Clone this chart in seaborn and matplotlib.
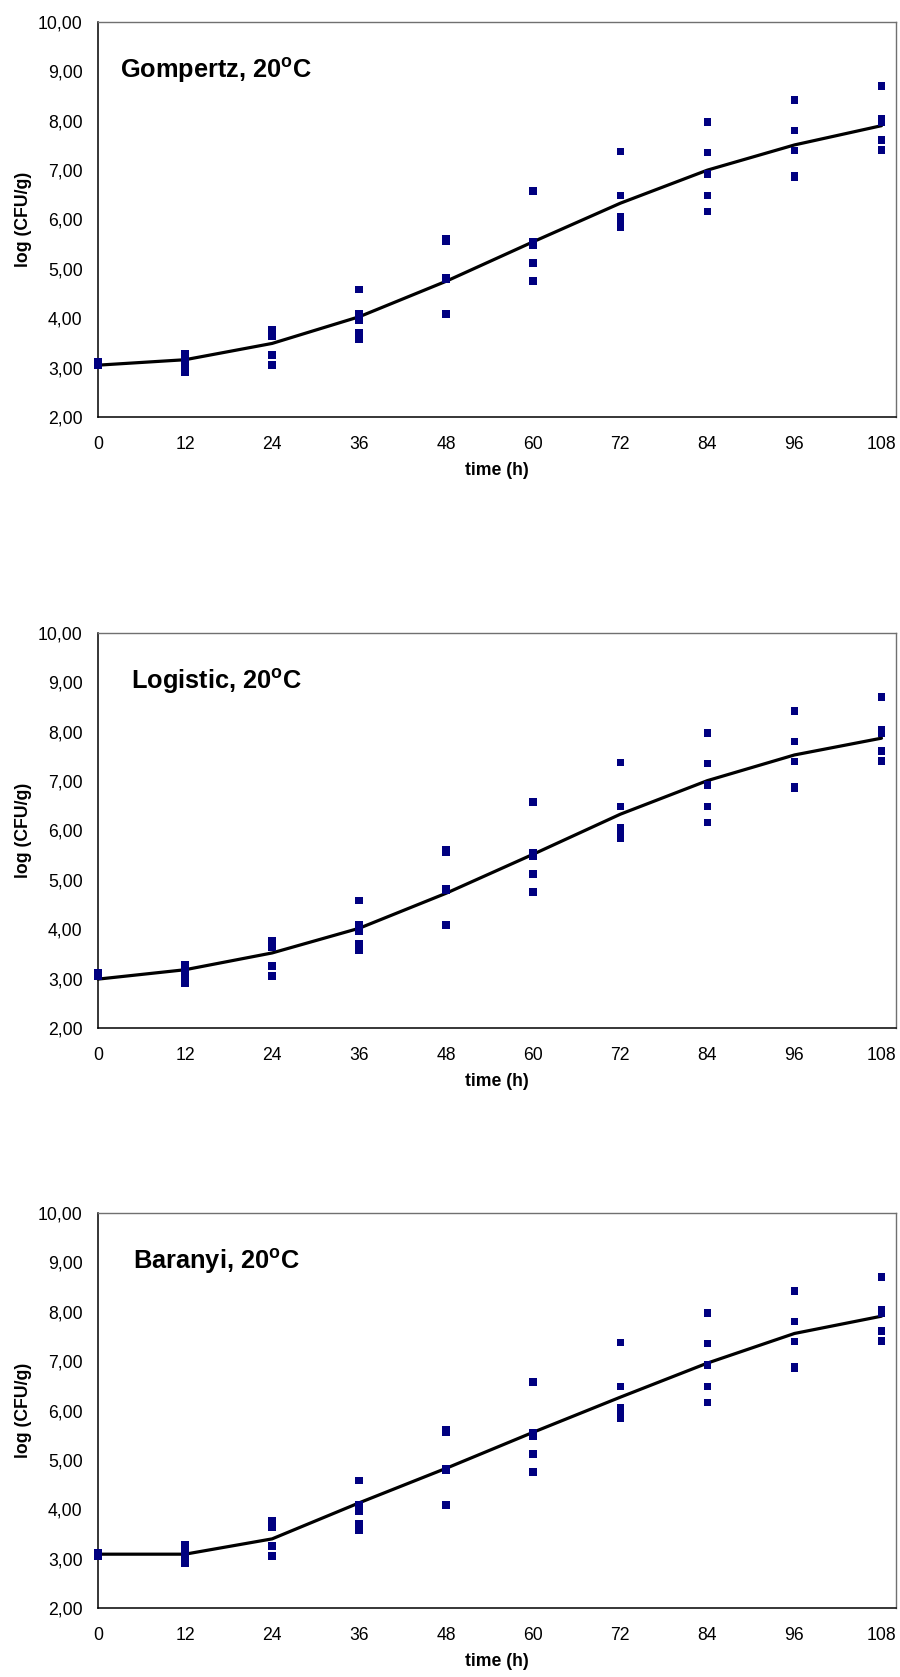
import numpy as np
import pandas as pd
import matplotlib
matplotlib.use("Agg")
import matplotlib.pyplot as plt
import seaborn as sns

# ---- data ----
times = [0, 12, 24, 36, 48, 60, 72, 84, 96, 108]
rep1 = [3.04, 3.28, 3.76, 4.58, 5.60, 6.58, 7.38, 7.98, 8.42, 8.70]
rep2 = [3.07, 3.20, 3.70, 4.08, 5.56, 5.55, 6.49, 7.36, 7.80, 8.03]
rep3 = [3.10, 3.12, 3.63, 3.97, 4.81, 5.47, 6.05, 6.92, 7.40, 7.97]
rep4 = [3.12, 3.05, 3.26, 3.70, 4.79, 5.12, 5.95, 6.49, 6.89, 7.61]
rep5 = [3.05, 2.91, 3.05, 3.57, 4.09, 4.75, 5.84, 6.16, 6.86, 7.41]

gompertz_fit = [3.05, 3.16, 3.49, 4.03, 4.75, 5.55, 6.33, 7.00, 7.51, 7.90]
logistic_fit = [2.99, 3.18, 3.52, 4.02, 4.73, 5.52, 6.33, 7.01, 7.53, 7.87]
baranyi_fit = [3.09, 3.09, 3.40, 4.13, 4.83, 5.56, 6.27, 6.96, 7.56, 7.91]

model_names = ["Gompertz", "Logistic", "Baranyi"]
fits = [gompertz_fit, logistic_fit, baranyi_fit]

x_ticks = [0, 12, 24, 36, 48, 60, 72, 84, 96, 108]
y_ticks = [2, 3, 4, 5, 6, 7, 8, 9, 10]
y_tick_labels = ["2,00", "3,00", "4,00", "5,00", "6,00", "7,00", "8,00", "9,00", "10,00"]

obs = pd.DataFrame({
    "time": times * 5,
    "logcfu": rep1 + rep2 + rep3 + rep4 + rep5,
})

# ---- style ----
sns.set_style("white")
plt.rcParams["font.family"] = ["Liberation Sans", "DejaVu Sans"]
plt.rcParams["text.color"] = "black"
plt.rcParams["axes.labelcolor"] = "black"
plt.rcParams["xtick.color"] = "black"
plt.rcParams["ytick.color"] = "black"
plt.rcParams["mathtext.fontset"] = "custom"
plt.rcParams["mathtext.rm"] = "Liberation Sans:bold"
plt.rcParams["mathtext.bf"] = "Liberation Sans:bold"
plt.rcParams["mathtext.it"] = "Liberation Sans:bold"

W, H = 900, 1677
fig = plt.figure(figsize=(W / 100, H / 100), dpi=100)

left = 98 / W
width = 798 / W
height = 395 / H
tops = [22, 633, 1213]
title_x = [3.1, 4.5, 4.8]

for name, fit, top, tx in zip(model_names, fits, tops, title_x):
    bottom = 1 - (top + 395) / H
    ax = fig.add_axes([left, bottom, width, height])
    fitdf = pd.DataFrame({"time": times, "fit": fit})
    sns.lineplot(data=fitdf, x="time", y="fit", ax=ax, color="black",
                 linewidth=2.3, zorder=2, clip_on=False)
    sns.scatterplot(data=obs, x="time", y="logcfu", ax=ax, marker="s",
                    s=30, color="#000080", edgecolor="none", linewidth=0,
                    zorder=3, clip_on=False)
    ax.set_xlim(0, 110)
    ax.set_ylim(2, 10)
    ax.set_xticks(x_ticks)
    ax.set_xticklabels([str(t) for t in x_ticks])
    ax.set_yticks(y_ticks)
    ax.set_yticklabels(y_tick_labels)
    ax.tick_params(axis="both", direction="out", length=5, width=1,
                   color="black", labelsize=12.7, labelcolor="black")
    ax.tick_params(axis="y", pad=6)
    ax.tick_params(axis="x", pad=9)
    for s in ["left", "bottom"]:
        ax.spines[s].set_color("black")
        ax.spines[s].set_linewidth(1.1)
    for s in ["top", "right"]:
        ax.spines[s].set_color("#707070")
        ax.spines[s].set_linewidth(1.0)
    ax.set_xlabel("time (h)", fontsize=12.7, fontweight="bold", color="black")
    ax.set_ylabel("log (CFU/g)", fontsize=12.7, fontweight="bold", color="black")
    ax.xaxis.set_label_coords(0.5, -0.115)
    ax.yaxis.set_label_coords(-0.083, 0.5)
    ax.text(tx, 9.02, name + r", 20$^{\mathrm{o}}$C", color="black",
            fontsize=18.3, fontweight="bold", va="center", ha="left")

fig.savefig("out.png", dpi=100)
